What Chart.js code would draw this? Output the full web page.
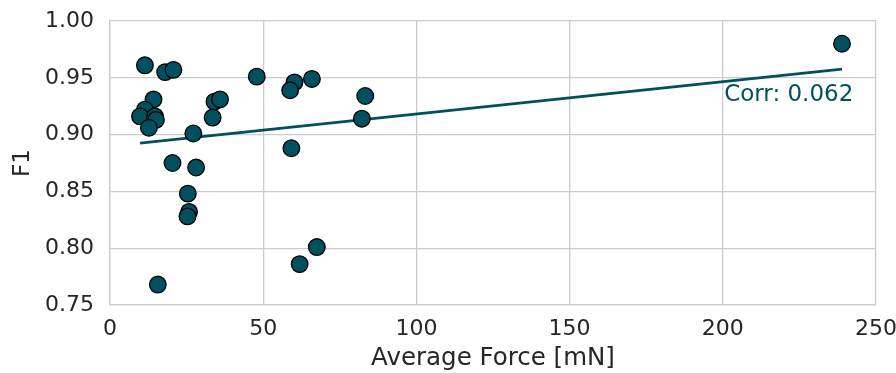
<!DOCTYPE html>
<html>
<head>
<meta charset="utf-8">
<script src="https://cdn.jsdelivr.net/npm/chart.js@4/dist/chart.umd.min.js"></script>
<style>
  body { margin: 0; background: #fff; }
</style>
</head>
<body>
<canvas id="graficoForca" width="896" height="373"></canvas>
<script>
  // average force per sample [mN] and the matching F1 score
  const forcaMedia = [11.4, 18.0, 20.7, 14.2, 11.4, 9.8, 14.7, 15.0, 12.7, 27.2,
                      34.1, 35.9, 33.5, 20.4, 28.1, 25.4, 25.8, 25.3, 15.6, 47.9,
                      60.2, 58.8, 65.9, 83.3, 82.2, 59.2, 67.5, 61.9, 238.9];
  const valoresF1 = [0.961, 0.955, 0.957, 0.931, 0.922, 0.916, 0.916, 0.913, 0.906, 0.901,
                     0.929, 0.931, 0.915, 0.875, 0.871, 0.848, 0.832, 0.828, 0.768, 0.951,
                     0.946, 0.939, 0.949, 0.934, 0.914, 0.888, 0.801, 0.786, 0.980];

  // fitted line end points
  const retaX = [9.8, 238.9];
  const retaF1 = [0.8925, 0.9576];
  const textoCorr = 'Corr: 0.062';

  const ticksX = [0, 50, 100, 150, 200, 250];
  const ticksY = [0.75, 0.80, 0.85, 0.90, 0.95, 1.00];

  const corPonto = '#00505f';
  const corGrade = '#cccccc';
  const corTexto = '#262626';
  const fonte = 'DejaVu Sans';

  const pontos = forcaMedia.map((x, i) => ({ x: x, y: valoresF1[i] }));
  const reta = retaX.map((x, i) => ({ x: x, y: retaF1[i] }));

  const rotuloCorr = {
    id: 'rotuloCorr',
    afterDatasetsDraw(chart) {
      const { ctx, scales } = chart;
      ctx.save();
      ctx.font = '23px "' + fonte + '"';
      ctx.fillStyle = corPonto;
      ctx.textAlign = 'right';
      ctx.textBaseline = 'middle';
      ctx.fillText(textoCorr, scales.x.getPixelForValue(242.6), scales.y.getPixelForValue(0.935));
      ctx.restore();
    }
  };

  const ctx = document.getElementById('graficoForca').getContext('2d');
  const graficoForca = new Chart(ctx, {
    type: 'scatter',
    data: {
      datasets: [{
        label: 'F1',
        data: pontos,
        backgroundColor: corPonto,
        borderColor: '#000000',
        borderWidth: 1.3,
        pointRadius: 8.3,
        pointHoverRadius: 8.3,
        clip: false
      }, {
        type: 'line',
        label: 'Ajuste',
        data: reta,
        borderColor: corPonto,
        borderWidth: 2.6,
        pointRadius: 0,
        fill: false
      }]
    },
    options: {
      responsive: false,
      animation: false,
      layout: { padding: { top: 21, right: 20, left: 0, bottom: 0 } },
      plugins: {
        legend: { display: false },
        tooltip: { enabled: false }
      },
      scales: {
        x: {
          type: 'linear',
          min: 0,
          max: 250,
          afterBuildTicks: (s) => { s.ticks = ticksX.map(v => ({ value: v })); },
          afterFit: (s) => { s.height = 68; s.paddingLeft = 0; s.paddingRight = 0; },
          grid: { color: corGrade, lineWidth: 1.3, drawTicks: false },
          border: { color: corGrade, width: 1.3 },
          ticks: { color: corTexto, font: { family: fonte, size: 22 }, padding: 11 },
          title: {
            display: true,
            text: 'Average Force [mN]',
            color: corTexto,
            font: { family: fonte, size: 24.5 },
            padding: { top: 0, bottom: 0 }
          }
        },
        y: {
          min: 0.75,
          max: 1.00,
          afterBuildTicks: (s) => { s.ticks = ticksY.map(v => ({ value: v })); },
          afterFit: (s) => { s.width = 110; s.paddingTop = 0; s.paddingBottom = 0; },
          grid: { color: corGrade, lineWidth: 1.3, drawTicks: false },
          border: { color: corGrade, width: 1.3 },
          ticks: {
            color: corTexto,
            font: { family: fonte, size: 22 },
            padding: 16,
            callback: (v) => v.toFixed(2)
          },
          title: {
            display: true,
            text: 'F1',
            color: corTexto,
            font: { family: fonte, size: 23 },
            padding: { top: 9, bottom: 0 }
          }
        }
      }
    },
    plugins: [rotuloCorr]
  });
</script>
</body>
</html>
